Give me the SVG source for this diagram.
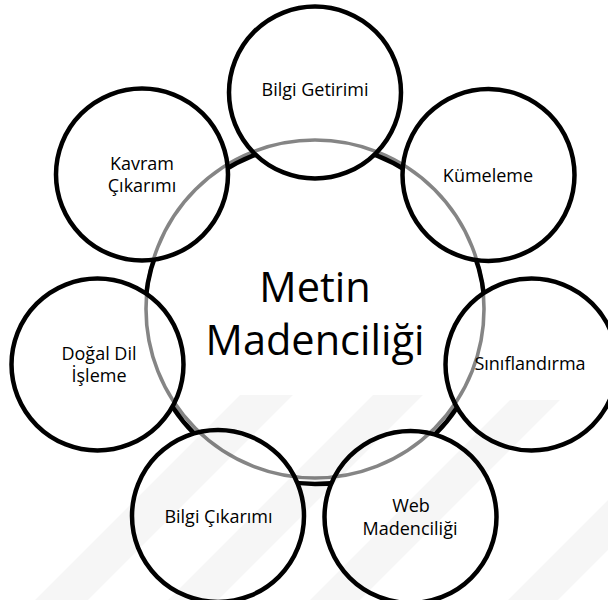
<svg xmlns="http://www.w3.org/2000/svg" width="608" height="600" viewBox="0 0 608 600">
  <style>
    .bg { fill: #ffffff; }
    .wm { fill: #000000; fill-opacity: 0.035; }
    .node { fill: #ffffff; stroke: #000000; stroke-width: 4.5; }
    .ring { fill: none; stroke: #000000; stroke-opacity: 0.48; stroke-width: 3.6; }
    .lbl { font-family: "Open Sans", "Liberation Sans", sans-serif; font-size: 18px; fill: #000000; text-anchor: middle; }
    .big { font-family: "Open Sans", "Liberation Sans", sans-serif; font-size: 41.5px; fill: #000000; text-anchor: middle; }
  </style>
  <rect class="bg" x="0" y="0" width="608" height="600"/>
  <g id="center">
    <circle class="node" cx="315" cy="314" r="170"/>
    <text class="big" x="315" y="302">Metin</text>
    <text class="big" x="315" y="355">Madenciliği</text>
  </g>
  <g id="bilgi-getirimi">
    <circle class="node" cx="315" cy="92.5" r="86"/>
    <text class="lbl" x="315" y="96">Bilgi Getirimi</text>
  </g>
  <g id="kumeleme">
    <circle class="node" cx="488.5" cy="175" r="86"/>
    <text class="lbl" x="488" y="181.5">Kümeleme</text>
  </g>
  <g id="siniflandirma">
    <circle class="node" cx="531.5" cy="364.5" r="86"/>
    <text class="lbl" x="530" y="370">Sınıflandırma</text>
  </g>
  <g id="web-madenciligi">
    <circle class="node" cx="410.5" cy="517" r="86"/>
    <text class="lbl" x="411" y="512">Web</text>
    <text class="lbl" x="410" y="534.5">Madenciliği</text>
  </g>
  <g id="bilgi-cikarimi">
    <circle class="node" cx="218" cy="516" r="86"/>
    <text class="lbl" x="218.5" y="523">Bilgi Çıkarımı</text>
  </g>
  <g id="dogal-dil-isleme">
    <circle class="node" cx="97.5" cy="364.5" r="86"/>
    <text class="lbl" x="99" y="359.5">Doğal Dil</text>
    <text class="lbl" x="99" y="382">İşleme</text>
  </g>
  <g id="kavram-cikarimi">
    <circle class="node" cx="142" cy="174.5" r="86"/>
    <text class="lbl" x="142" y="169.5">Kavram</text>
    <text class="lbl" x="142" y="192">Çıkarımı</text>
  </g>
  <g id="connectors">
    <circle class="ring" cx="315" cy="309" r="169"/>
  </g>
  <g id="watermark">
    <polygon class="wm" points="240,395 293,395 88,600 35,600"/>
    <polygon class="wm" points="373,395 423,395 218,600 168,600"/>
    <polygon class="wm" points="510,400 560,400 360,600 310,600"/>
    <polygon class="wm" points="608,500 608,550 558,600 508,600"/>
  </g>
</svg>
